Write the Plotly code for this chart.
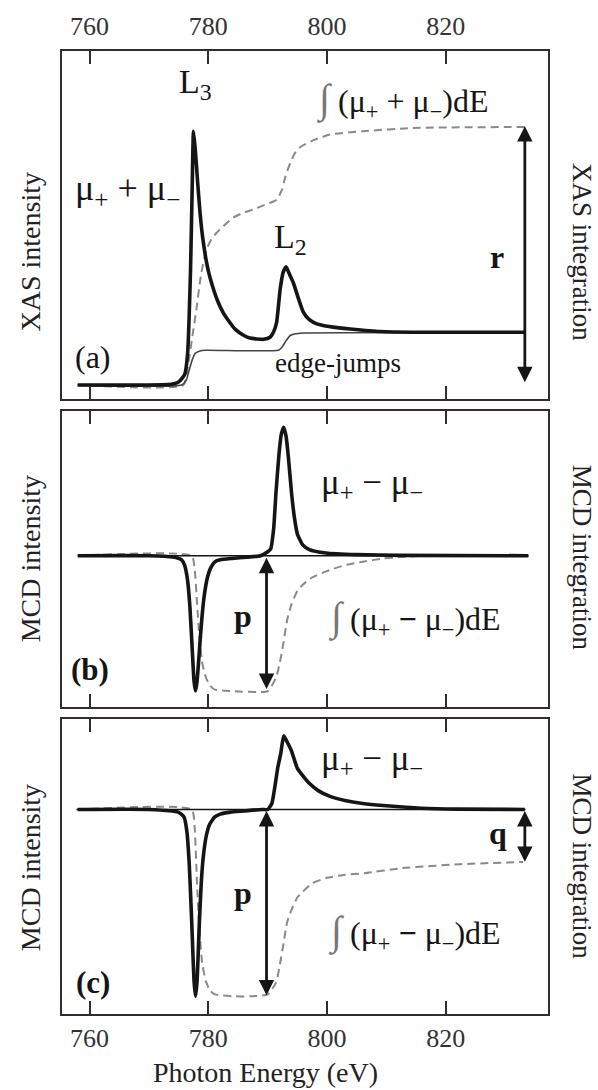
import plotly.graph_objects as go

# ---------------- data ----------------
# Panel (a): XAS sum spectrum (mu+ + mu-), normalised to L3 peak = 1
xas_E = [758.0, 770.0, 774.0, 775.0, 776.0, 776.5, 777.0, 777.3, 777.5, 777.8, 778.2, 778.6,
         779.0, 779.5, 780.0, 780.7, 781.5, 782.5, 783.5, 784.5, 786.0, 787.0, 789.3, 790.4,
         791.0, 791.5, 792.1, 792.6, 793.1, 793.6, 794.3, 795.2, 796.0, 796.8, 797.7, 799.0,
         801.0, 803.9, 808.9, 814.5, 833.3]
xas_I = [0.0, 0.0, 0.004, 0.012, 0.04, 0.12, 0.45, 0.80, 1.0, 0.93, 0.80, 0.68,
         0.59, 0.51, 0.45, 0.39, 0.335, 0.285, 0.25, 0.22, 0.195, 0.185, 0.18, 0.188,
         0.21, 0.247, 0.378, 0.444, 0.466, 0.44, 0.404, 0.339, 0.287, 0.262, 0.247, 0.236,
         0.228, 0.221, 0.211, 0.208, 0.208]

# edge-jump step function
edge_E = [758.0, 775.5, 776.3, 776.8, 777.3, 777.8, 778.6, 779.5, 791.8, 792.4, 793.1,
          793.8, 794.5, 796.0, 833.3]
edge_I = [0.0, 0.0, 0.02, 0.06, 0.10, 0.125, 0.134, 0.137, 0.137, 0.149, 0.175,
          0.195, 0.201, 0.205, 0.207]

# integral of (mu+ + mu-)
xint_E = [758.0, 775.8, 776.6, 777.3, 778.0, 778.8, 779.7, 780.5, 781.4, 782.8, 784.2,
          786.0, 787.6, 789.5, 791.5, 792.4, 793.0, 793.8, 794.6, 795.6, 797.9, 800.5,
          806.0, 814.4, 833.3]
xint_I = [0.0, 0.0, 0.079, 0.19, 0.30, 0.44, 0.535, 0.573, 0.60, 0.632, 0.66,
          0.68, 0.692, 0.71, 0.73, 0.77, 0.824, 0.875, 0.915, 0.94, 0.967, 0.987,
          1.0, 1.013, 1.017]

# Panel (b): MCD (mu+ - mu-), normalised to L3 dip = -1
mcdb_E = [758.0, 770.0, 774.0, 775.5, 776.0, 776.5, 776.9, 777.3, 777.6, 777.85, 778.1,
          778.5, 778.9, 779.3, 779.8, 780.4, 781.1, 782.0, 784.0, 786.5, 788.8, 790.0,
          790.5, 791.0, 791.4, 791.9, 792.3, 792.7, 793.1, 793.5, 794.0, 794.5, 795.0,
          795.9, 797.0, 799.8, 805.0, 812.0, 833.9]
mcdb_I = [0.0, 0.0, -0.01, -0.03, -0.07, -0.18, -0.38, -0.70, -0.93, -1.0, -0.93,
          -0.70, -0.47, -0.30, -0.17, -0.09, -0.045, -0.03, -0.02, -0.01, 0.0, 0.03,
          0.05, 0.20, 0.47, 0.75, 0.90, 0.95, 0.88, 0.72, 0.47, 0.28, 0.16,
          0.08, 0.045, 0.02, 0.008, 0.003, 0.0]

mcdb_int_E = [758.0, 777.2, 777.7, 778.1, 778.5, 779.0, 779.6, 780.3, 781.1, 783.7, 790.0,
              791.4, 792.0, 792.7, 793.3, 794.0, 795.0, 795.9, 797.5, 799.8, 803.0, 806.3,
              809.5, 812.6, 816.0]
mcdb_int_I = [0.0, 0.0, -0.10, -0.35, -0.60, -0.80, -0.90, -0.96, -0.99, -1.0, -1.0,
              -0.90, -0.80, -0.63, -0.47, -0.36, -0.26, -0.214, -0.16, -0.116, -0.07, -0.042,
              -0.02, -0.01, 0.0]

# Panel (c): MCD (mu+ - mu-), normalised to L3 dip = -1
mcdc_E = [758.0, 770.0, 775.0, 775.9, 776.4, 776.8, 777.2, 777.6, 777.85, 778.1, 778.5,
          778.8, 779.1, 779.6, 780.2, 781.1, 782.0, 783.7, 786.0, 789.0, 790.0, 790.7,
          791.2, 791.7, 792.2, 792.7, 793.3, 794.0, 795.0, 795.9, 797.0, 798.5, 800.5,
          803.0, 806.0, 809.4, 815.9, 822.0, 833.3]
mcdc_I = [0.0, 0.0, -0.015, -0.04, -0.12, -0.30, -0.60, -0.92, -1.0, -0.92, -0.60,
          -0.40, -0.27, -0.15, -0.08, -0.04, -0.025, -0.014, -0.008, 0.0, 0.0, 0.032,
          0.12, 0.225, 0.30, 0.394, 0.36, 0.314, 0.22, 0.181, 0.14, 0.101, 0.07,
          0.048, 0.032, 0.021, 0.007, 0.002, 0.0]

mcdc_int_E = [758.0, 777.2, 777.7, 778.1, 778.5, 779.0, 779.6, 780.3, 781.1, 784.0, 787.0,
              790.0, 791.4, 792.0, 792.7, 793.3, 794.0, 795.0, 795.9, 797.5, 799.8, 803.0,
              806.3, 812.6, 822.3, 833.0]
mcdc_int_I = [0.0, 0.0, -0.10, -0.40, -0.65, -0.83, -0.92, -0.97, -0.99, -1.0, -1.0,
              -0.99, -0.927, -0.84, -0.71, -0.60, -0.538, -0.47, -0.44, -0.395, -0.367, -0.35,
              -0.341, -0.314, -0.293, -0.281]

# zero lines of the MCD panels
zero_b_E = [758.2, 833.9]
zero_c_E = [757.8, 833.4]
zero_I = [0.0, 0.0]

# arrows: [energy, from, to]
arrow_r = [833.3, 0.005, 1.02]
arrow_pb = [789.8, -0.004, -0.985]
arrow_pc = [789.8, 0.0, -0.995]
arrow_q = [833.3, 0.0, -0.28]

tick_vals = [760, 780, 800, 820]
tick_text = ["760", "780", "800", "820"]

# ---------------- figure ----------------
FONT = "Liberation Serif"
FRAME = "#332c2c"
BLACK = "#151515"
GRAY = "#8a8a8a"

fig = go.Figure()

def thick(x, y, xa, ya):
    fig.add_trace(go.Scatter(x=x, y=y, mode="lines", xaxis=xa, yaxis=ya,
                             line=dict(color=BLACK, width=3.6, shape="spline", smoothing=0.5),
                             showlegend=False, hoverinfo="skip"))

def thin(x, y, xa, ya, color="#333", width=1.6):
    fig.add_trace(go.Scatter(x=x, y=y, mode="lines", xaxis=xa, yaxis=ya,
                             line=dict(color=color, width=width, shape="spline", smoothing=0.5),
                             showlegend=False, hoverinfo="skip"))

def dashed(x, y, xa, ya):
    fig.add_trace(go.Scatter(x=x, y=y, mode="lines", xaxis=xa, yaxis=ya,
                             line=dict(color=GRAY, width=2, dash="8px,5px", shape="spline", smoothing=0.5),
                             showlegend=False, hoverinfo="skip"))

# panel (a)
dashed(xint_E, xint_I, "x", "y")
thin(edge_E, edge_I, "x", "y", color="#444", width=1.6)
thick(xas_E, xas_I, "x", "y")
# panel (b)
dashed(mcdb_int_E, mcdb_int_I, "x2", "y2")
thin(zero_b_E, zero_I, "x2", "y2", color=BLACK, width=1.5)
thick(mcdb_E, mcdb_I, "x2", "y2")
# panel (c)
dashed(mcdc_int_E, mcdc_int_I, "x3", "y3")
thin(zero_c_E, zero_I, "x3", "y3", color=BLACK, width=1.5)
thick(mcdc_E, mcdc_I, "x3", "y3")

xrange = [755.36, 837.2]
xcommon = dict(range=xrange, showline=True, linewidth=2, linecolor=FRAME, mirror="ticks",
               ticks="inside", ticklen=13, tickwidth=2, tickcolor=FRAME,
               tickvals=tick_vals, ticktext=tick_text, showgrid=False, zeroline=False,
               tickfont=dict(family=FONT, size=26, color="#333"))
ycommon = dict(showline=True, linewidth=2, linecolor=FRAME, mirror=True, ticks="",
               showticklabels=False, showgrid=False, zeroline=False)

fig.update_layout(
    width=598, height=1090,
    margin=dict(l=62, r=50, t=48, b=76),
    plot_bgcolor="white", paper_bgcolor="white",
    xaxis=dict(xcommon, anchor="y", side="top", showticklabels=True, ticklabelstandoff=4),
    xaxis2=dict(xcommon, anchor="y2", showticklabels=False),
    xaxis3=dict(xcommon, anchor="y3", side="bottom", showticklabels=True),
    yaxis=dict(ycommon, domain=[0.6384, 1.0], range=[-0.0561, 1.3164], anchor="x"),
    yaxis2=dict(ycommon, domain=[0.3188, 0.6260], range=[-1.1179, 1.0685], anchor="x2"),
    yaxis3=dict(ycommon, domain=[0.0, 0.3061], range=[-1.0949, 0.4832], anchor="x3"),
)

ann = []

def txt(text, x, y, xref, yref, size, bold=False, color=BLACK, angle=0):
    if bold:
        text = "<b>" + text + "</b>"
    ann.append(dict(text=text, x=x, y=y, xref=xref, yref=yref, showarrow=False,
                    xanchor="center", yanchor="middle", textangle=angle,
                    font=dict(family=FONT, size=size, color=color)))

def arrow(a, xref, yref):
    ann.append(dict(text="", x=a[0], y=a[2], ax=a[0], ay=a[1], xref=xref, yref=yref,
                    axref=xref, ayref=yref, showarrow=True, arrowhead=2, arrowside="end+start",
                    arrowsize=1.1, arrowwidth=2.8, arrowcolor=BLACK, standoff=0, startstandoff=0))

INT = "<span style='color:#777;font-size:40px'>\u222b</span> "
# panel (a) labels
txt("L<sub>3</sub>", 777.8, 1.186, "x", "y", 34)
txt(INT + "(\u03bc<sub>+</sub> + \u03bc<sub>\u2212</sub>)dE", 812.6, 1.123, "x", "y", 32)
txt("\u03bc<sub>+</sub> + \u03bc<sub>\u2212</sub>", 766.4, 0.765, "x", "y", 36)
txt("L<sub>2</sub>", 793.8, 0.577, "x", "y", 34)
txt("r", 828.6, 0.505, "x", "y", 32, bold=True)
txt("(a)", 760.6, 0.11, "x", "y", 32)
txt("edge-jumps", 801.9, 0.086, "x", "y", 27)
arrow(arrow_r, "x", "y")
# panel (b)
txt("\u03bc<sub>+</sub> \u2212 \u03bc<sub>\u2212</sub>", 807.6, 0.525, "x2", "y2", 35)
txt(INT + "(\u03bc<sub>+</sub> <b>\u2212</b> \u03bc<sub>\u2212</sub>)dE", 814.8, -0.46, "x2", "y2", 32)
txt("p", 785.9, -0.447, "x2", "y2", 32, bold=True)
txt("(b)", 760.1, -0.838, "x2", "y2", 31, bold=True)
arrow(arrow_pb, "x2", "y2")
# panel (c)
txt("\u03bc<sub>+</sub> \u2212 \u03bc<sub>\u2212</sub>", 807.6, 0.261, "x3", "y3", 35)
txt(INT + "(\u03bc<sub>+</sub> <b>\u2212</b> \u03bc<sub>\u2212</sub>)dE", 814.8, -0.655, "x3", "y3", 32)
txt("p", 785.9, -0.447, "x3", "y3", 32, bold=True)
txt("q", 828.7, -0.128, "x3", "y3", 32, bold=True)
txt("(c)", 760.5, -0.927, "x3", "y3", 31, bold=True)
arrow(arrow_pc, "x3", "y3")
arrow(arrow_q, "x3", "y3")

# axis titles
txt("XAS intensity", -0.0658, 0.7908, "paper", "paper", 28, angle=-90, color="#222")
txt("XAS integration", 1.070, 0.7913, "paper", "paper", 27, angle=90, color="#222")
txt("MCD intensity", -0.0658, 0.4722, "paper", "paper", 28, angle=-90, color="#222")
txt("MCD integration", 1.070, 0.4737, "paper", "paper", 27, angle=90, color="#222")
txt("MCD intensity", -0.0658, 0.1515, "paper", "paper", 28, angle=-90, color="#222")
txt("MCD integration", 1.070, 0.1531, "paper", "paper", 27, angle=90, color="#222")
txt("Photon Energy (eV)", 0.4177, -0.0610, "paper", "paper", 28, color="#222")

fig.update_layout(annotations=ann)
fig.write_html("out.html")
